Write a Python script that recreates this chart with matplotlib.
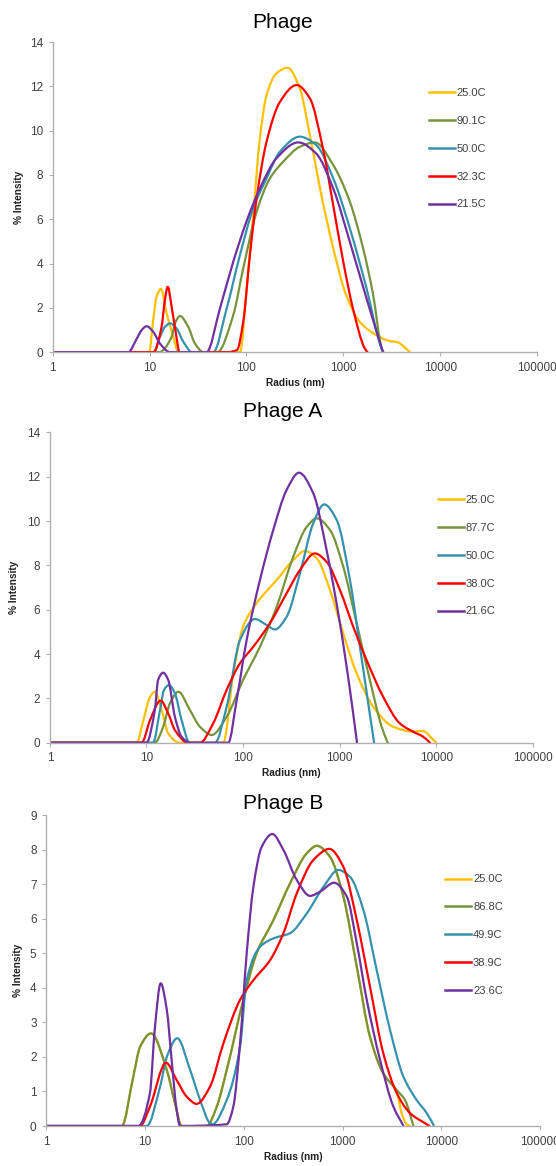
import numpy as np
import matplotlib
matplotlib.use('Agg')
import matplotlib.pyplot as plt
from matplotlib.path import Path
from matplotlib.patches import PathPatch
from matplotlib.lines import Line2D

plt.rcParams['font.family'] = ['Liberation Sans', 'DejaVu Sans']

# x ticks shared by the three charts
x_ticks = [1, 10, 100, 1000, 10000, 100000]
x_tick_labels = ['1', '10', '100', '1000', '10000', '100000']

colors = ['#FFC000', '#77933C', '#3592AE', '#FF0000', '#7030A0']

# ---- Phage : (radius nm, % intensity)
phage_labels = ['25.0C', '90.1C', '50.0C', '32.3C', '21.5C']
phage_25 = [(1, 0), (9.9, 0), (10.9, 1.45), (11.8, 2.5), (13.1, 2.85), (15, 1.75), (17.6, 0.69),
            (19.8, 0), (50, 0), (86, 0), (100.5, 2.88), (117.5, 6.19), (137.7, 9.65), (161.4, 11.6),
            (204, 12.59), (266, 12.84), (356.5, 11.9), (451.9, 9.8), (575, 7.4), (787, 4.7),
            (1072, 2.57), (1479, 1.37), (2188, 0.77), (3020, 0.5), (3550, 0.46), (4900, 0)]
phage_90 = [(1, 0), (12.6, 0), (16.9, 0.69), (18.3, 1.3), (20.6, 1.63), (25.1, 1.14), (29.4, 0.39),
            (36, 0), (50, 0), (73.1, 1.67), (92.7, 3.78), (127.4, 6.34), (175, 7.85), (240, 8.6),
            (354.8, 9.27), (509.3, 9.47), (787, 8.45), (1169, 6.79), (1603, 4.68), (2037, 2.57),
            (2483, 0.17), (2570, 0)]
phage_50 = [(1, 0), (11, 0), (12.8, 0.69), (14.4, 1.14), (16.3, 1.3), (19, 1.07), (22.3, 0.47),
            (27.5, 0), (45.4, 0), (62.5, 1.97), (85.7, 4.38), (117.5, 6.49), (161.4, 7.85),
            (221.8, 9.05), (356.5, 9.73), (524.8, 9.35), (787, 7.85), (1169, 5.59), (1738, 2.88),
            (2483, 0.17), (2600, 0)]
phage_32 = [(1, 0), (11, 0), (13.3, 1.14), (14.4, 2.35), (15.4, 2.95), (16.9, 2.05), (18.7, 0.84),
            (20.4, 0), (64.6, 0), (80, 0.1), (92.7, 1.37), (108.6, 4.38), (127.4, 6.94),
            (161.4, 9.5), (221.8, 11.3), (329.6, 12.06), (451.9, 11.46), (616.6, 9.2), (787, 6.64),
            (1000, 4.08), (1259, 1.97), (1660, 0.18), (1778, 0)]
phage_21 = [(1, 0), (6.03, 0), (7.4, 0.62), (8.3, 1.0), (9.3, 1.17), (10.9, 0.92), (12.8, 0.39),
            (16.2, 0), (38.8, 0), (53.3, 1.97), (73.1, 4.08), (100, 5.89), (137.7, 7.39),
            (204, 8.75), (342.8, 9.47), (524.8, 8.97), (787, 7.39), (1169, 4.98), (1738, 2.42),
            (2570, 0)]

# ---- Phage A
phage_a_labels = ['25.0C', '87.7C', '50.0C', '38.0C', '21.6C']
phage_a_25 = [(1, 0), (7.91, 0), (9.3, 1.02), (10.9, 2.07), (12.2, 2.3), (14.4, 1.47), (16.8, 0.42),
              (22, 0), (62.4, 0), (79.3, 3.13), (100, 5.23), (138, 6.29), (222.8, 7.34), (331, 8.24),
              (436.5, 8.65), (578.1, 8.32), (794.3, 6.89), (1089, 4.93), (1500, 3.13), (2228, 1.62),
              (3589, 0.72), (5781, 0.5), (7161, 0.53), (10000, 0)]
phage_a_87 = [(1, 0), (12.2, 0), (14.9, 0.72), (17.5, 1.78), (21.4, 2.3), (28.2, 1.47), (35.8, 0.72),
              (47.3, 0.35), (67.6, 1.17), (100, 2.83), (149.6, 4.33), (222.8, 6.13), (331, 8.39),
              (457, 9.74), (578.1, 10.12), (794.3, 9.6), (1089, 7.94), (1500, 5.39), (2056, 2.83),
              (2723, 0.72), (3141, 0)]
phage_a_50 = [(1, 0), (11.7, 0), (13.8, 1.47), (15.2, 2.38), (17.1, 2.6), (19.7, 2.23), (23.1, 1.02),
              (28, 0), (51.2, 0), (67.6, 1.62), (92.9, 4.63), (132.7, 5.58), (175.4, 5.31),
              (213.8, 5.11), (282.5, 5.68), (388.2, 7.64), (533.3, 9.9), (691.8, 10.75), (931, 10.05),
              (1279, 7.34), (1622, 4.33), (1977, 1.78), (2275, 0)]
phage_a_38 = [(1, 0), (8.91, 0), (10.9, 1.02), (14, 1.9), (16.8, 1.32), (19.7, 0.57), (26.9, 0),
              (35.8, 0), (49, 0.87), (67.6, 2.38), (92.9, 3.58), (127.6, 4.33), (189.7, 5.39),
              (282.5, 6.74), (388.2, 7.79), (554.6, 8.54), (732.8, 8.16), (1007, 6.89), (1384, 5.23),
              (1901, 3.73), (2825, 2.07), (4207, 0.87), (6266, 0.42), (7161, 0.3), (8630, 0)]
phage_a_21 = [(1, 0), (10, 0), (12.2, 1.47), (13.2, 2.83), (14.9, 3.16), (16.8, 2.83), (19.7, 1.17),
              (23.1, 0.27), (28.2, 0), (70.3, 0), (85.9, 1.93), (108.9, 4.63), (149.6, 7.34),
              (205.6, 9.6), (282.5, 11.4), (379.3, 12.18), (533.3, 11.25), (732.8, 8.69),
              (1007, 5.39), (1279, 2.38), (1514, 0)]

# ---- Phage B
phage_b_labels = ['25.0C', '86.8C', '49.9C', '38.9C', '23.6C']
phage_b_25 = [(1, 0), (5.81, 0), (7.6, 1.43), (8.9, 2.29), (11.5, 2.68), (16.6, 1.62), (20.1, 0.66),
              (23.4, 0), (42.2, 0), (53.2, 0.56), (67.1, 1.62), (98.9, 3.65), (134.9, 5.0),
              (199.5, 5.96), (293.8, 7.02), (433.5, 7.89), (548.3, 8.11), (746.4, 7.79), (1019, 6.64),
              (1393, 4.61), (1897, 2.58), (2588, 1.52), (3540, 1.0), (3981, 0.35), (4467, 0.05),
              (4800, 0)]
phage_b_86 = [(1, 0), (5.81, 0), (7.6, 1.43), (8.9, 2.29), (11.5, 2.68), (16.6, 1.62), (20.1, 0.66),
              (23.4, 0), (42.2, 0), (53.2, 0.56), (67.1, 1.62), (98.9, 3.65), (134.9, 5.0),
              (199.5, 5.96), (293.8, 7.02), (433.5, 7.89), (548.3, 8.11), (746.4, 7.79), (1019, 6.64),
              (1393, 4.61), (1897, 2.58), (2588, 1.52), (3540, 1.04), (4295, 0.75), (5224, 0)]
phage_b_49 = [(1, 0), (10.4, 0), (14.2, 1.14), (16.6, 2.0), (21.2, 2.54), (28.6, 1.62), (36.1, 0.75),
              (45.5, 0.08), (47.9, 0.05), (67.1, 0.75), (91.6, 2.29), (107, 4.22), (146.2, 5.19),
              (199.5, 5.43), (293.8, 5.58), (433.5, 6.15), (639.7, 6.92), (907.8, 7.41), (1191, 7.21),
              (1626, 6.25), (2218, 4.51), (3027, 2.78), (4130, 1.43), (5636, 0.75), (7129, 0.37),
              (8453, 0)]
phage_b_38 = [(1, 0), (8.89, 0), (11.2, 0.56), (16.3, 1.83), (20.9, 1.33), (26.4, 0.85), (33.3, 0.64),
              (45.5, 1.14), (62.1, 2.39), (91.6, 3.65), (125, 4.22), (184.5, 4.8), (251.8, 5.58),
              (343.6, 6.73), (507, 7.7), (736.2, 8.02), (1019, 7.5), (1393, 5.96), (1897, 4.03),
              (2588, 2.1), (3540, 0.95), (4831, 0.37), (6839, 0.08), (7586, 0)]
phage_b_23 = [(1, 0), (8.55, 0), (11.2, 0.95), (12.6, 2.87), (14.4, 4.13), (16.6, 3.36), (18.6, 1.9),
              (20.9, 0.46), (22.6, 0), (67.1, 0.05), (78.3, 0.56), (91.6, 2.39), (107, 5.0),
              (125, 6.92), (151.7, 8.08), (194.5, 8.45), (251.8, 7.99), (343.6, 7.12), (468.8, 6.66),
              (591.6, 6.78), (820.4, 7.04), (1104, 6.64), (1393, 5.29), (1758, 3.65), (2399, 1.91),
              (3273, 0.56), (4140, 0)]


def smooth_path(points):
    # monotone cubic through the points, in log-x space, drawn as bezier segments
    r, v = zip(*points)
    x = np.log10(np.array(r, dtype=float))
    y = np.array(v, dtype=float)
    h = np.diff(x)
    d = np.diff(y) / h
    n = len(x)
    m = np.zeros(n)
    m[0], m[-1] = d[0], d[-1]
    for k in range(1, n - 1):
        if d[k - 1] * d[k] > 0:
            w1 = 2 * h[k] + h[k - 1]
            w2 = h[k] + 2 * h[k - 1]
            m[k] = (w1 + w2) / (w1 / d[k - 1] + w2 / d[k])
    verts = [(x[0], y[0])]
    codes = [Path.MOVETO]
    for k in range(n - 1):
        verts.append((x[k] + h[k] / 3, y[k] + m[k] * h[k] / 3))
        verts.append((x[k + 1] - h[k] / 3, y[k + 1] - m[k + 1] * h[k] / 3))
        verts.append((x[k + 1], y[k + 1]))
        codes += [Path.CURVE4] * 3
    verts = np.array(verts)
    verts[:, 0] = 10 ** verts[:, 0]
    return Path(verts, codes)


panels = [
    dict(title='Phage', title_y=0.981, rect=[0.0948, 0.698, 0.871, 0.2659], ymax=14, ystep=2,
         labels=phage_labels, series=[phage_25, phage_90, phage_50, phage_32, phage_21],
         leg=(0.777, 0.851), ylab_x=-0.060),
    dict(title='Phage A', title_y=0.647, rect=[0.0897, 0.363, 0.8686, 0.2662], ymax=14, ystep=2,
         labels=phage_a_labels, series=[phage_a_25, phage_a_87, phage_a_50, phage_a_38, phage_a_21],
         leg=(0.804, 0.797), ylab_x=-0.064),
    dict(title='Phage B', title_y=0.311, rect=[0.0833, 0.0343, 0.888, 0.2667], ymax=9, ystep=1,
         labels=phage_b_labels, series=[phage_b_25, phage_b_86, phage_b_49, phage_b_38, phage_b_23],
         leg=(0.808, 0.809), ylab_x=-0.048),
]

fig = plt.figure(figsize=(5.56, 11.66), dpi=100)

for p in panels:
    ax = fig.add_axes(p['rect'])
    ax.set_xscale('log')
    ax.set_xlim(1, 100000)
    ax.set_ylim(0, p['ymax'])
    handles = []
    for pts, c, lab in zip(p['series'], colors, p['labels']):
        ax.add_patch(PathPatch(smooth_path(pts), fill=False, edgecolor=c, lw=1.6,
                               capstyle='round', joinstyle='round'))
        handles.append(Line2D([], [], color=c, lw=1.8, label=lab))

    ax.set_xticks(x_ticks)
    ax.set_xticklabels(x_tick_labels)
    ax.xaxis.set_minor_locator(matplotlib.ticker.NullLocator())
    ax.set_yticks(np.arange(0, p['ymax'] + 1, p['ystep']))
    for s in ['top', 'right']:
        ax.spines[s].set_visible(False)
    for s in ['left', 'bottom']:
        ax.spines[s].set_color('#B0B0B0')
        ax.spines[s].set_linewidth(1.0)
    ax.tick_params(direction='out', length=3, width=0.8, color='#B0B0B0',
                   labelcolor='#404040', labelsize=8.5, pad=4)

    ax.set_xlabel('Radius (nm)', fontsize=7.3, fontweight='bold', color='#202020')
    ax.xaxis.set_label_coords(0.5, -0.082)
    ax.set_ylabel('% Intensity', fontsize=7.3, fontweight='bold', color='#202020')
    ax.yaxis.set_label_coords(p['ylab_x'], 0.5)

    ax.legend(handles=handles, loc='upper left', bbox_to_anchor=p['leg'], frameon=False,
              fontsize=8, handlelength=2.3, handletextpad=0.2, labelspacing=1.6,
              borderpad=0, borderaxespad=0, labelcolor='#404040')

    fig.text(0.509, p['title_y'], p['title'], ha='center', va='center', fontsize=15)

fig.savefig('out.png', dpi=100)
